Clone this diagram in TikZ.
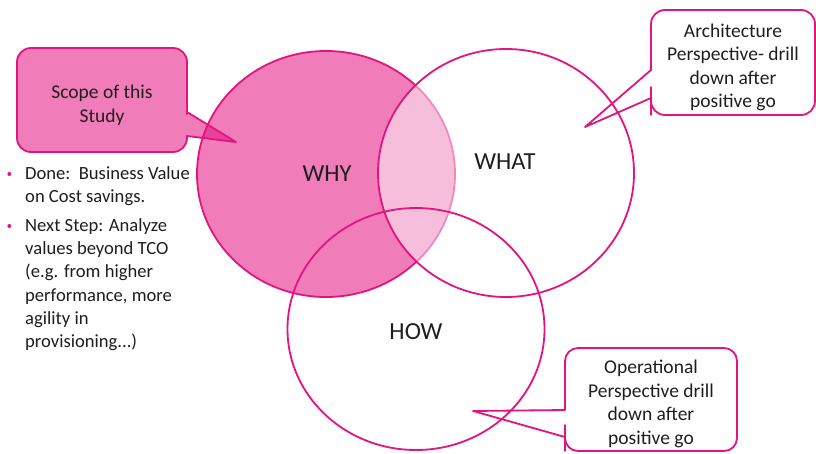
\documentclass[tikz,border=0pt]{standalone}
\usepackage{fontspec}
\setmainfont{Carlito}
\usetikzlibrary{shapes.geometric}
\definecolor{mag}{RGB}{227,19,127}
\definecolor{ink}{RGB}{30,30,30}
\begin{document}
\begin{tikzpicture}[x=1pt,y=-1pt,
  ring/.style={ellipse, draw=mag, line width=1.8pt, inner sep=0pt},
  word/.style={text=ink, font=\fontsize{24.5}{28}\selectfont},
  note/.style={text=ink, align=center, font=\fontsize{19.5}{23.6}\selectfont},
  item/.style={text=ink, align=left, anchor=north west, inner sep=0pt,
    font=\fontsize{18.6}{23.3}\selectfont},
  dot/.style={circle, fill=mag, inner sep=0pt, minimum size=4pt},
  balloon/.style={draw=mag, line width=1.8pt, line join=round}]
\useasboundingbox (0,0) rectangle (816,453);

% Venn circles
\node[ring, fill=mag, fill opacity=0.55, minimum width=258, minimum height=246] (why) at (326,174) {};
\node[ring, fill=white, fill opacity=0.5, minimum width=256, minimum height=248] (what) at (506,173) {};
\node[ring, minimum width=257, minimum height=242] (how) at (416,329) {};

\node[word] (whyl) at (327,174) {WHY};
\node[word] (whatl) at (505,162) {WHAT};
\node[word] (howl) at (416,332) {HOW};

% Scope callout
\coordinate (scopetip) at (236,142);
\path[balloon, fill=mag, fill opacity=0.55, rounded corners=14pt]
  (100,48) -- (187,48) -- (187,100) [sharp corners] -- (187,112) -- (scopetip)
  -- (187,136) -- (187,138) [rounded corners=14pt] -- (187,152) -- (17,152) -- (17,48) -- cycle;
\node[note] (scope) at (102,105) {Scope of this\\Study};

% Architecture callout
\coordinate (archtip) at (585,127);
\path[balloon, rounded corners=14pt]
  (733,10) -- (815,10) -- (815,115) -- (651,115) -- (651,101) [sharp corners]
  -- (651,98) -- (archtip) -- (651,70) -- (651,60) [rounded corners=14pt] -- (651,10) -- cycle;
\node[note] (arch) at (733,67.5) {Architecture\\Perspective- drill\\down after\\positive go};

% Operational callout
\coordinate (opstip) at (473,411);
\path[balloon, rounded corners=13pt]
  (650,348) -- (737,348) -- (737,451) -- (565,451) -- (565,438) [sharp corners]
  -- (565,437) -- (opstip) -- (565,410) -- (565,400) [rounded corners=13pt] -- (565,348) -- cycle;
\node[note] (ops) at (651,404) {Operational\\Perspective drill\\down after\\positive go};

% Bullet list
\node[dot] (b1) at (9.3,174) {};
\node[item] (t1) at (25,166) {Done:\ \ Business Value\\on Cost savings.};
\node[dot] (b2) at (9.3,226) {};
\node[item] (t2) at (25,218) {Next Step: Analyze\\values beyond TCO\\(e.g. from higher\\performance, more\\agility in\\provisioning...)};
\end{tikzpicture}
\end{document}
